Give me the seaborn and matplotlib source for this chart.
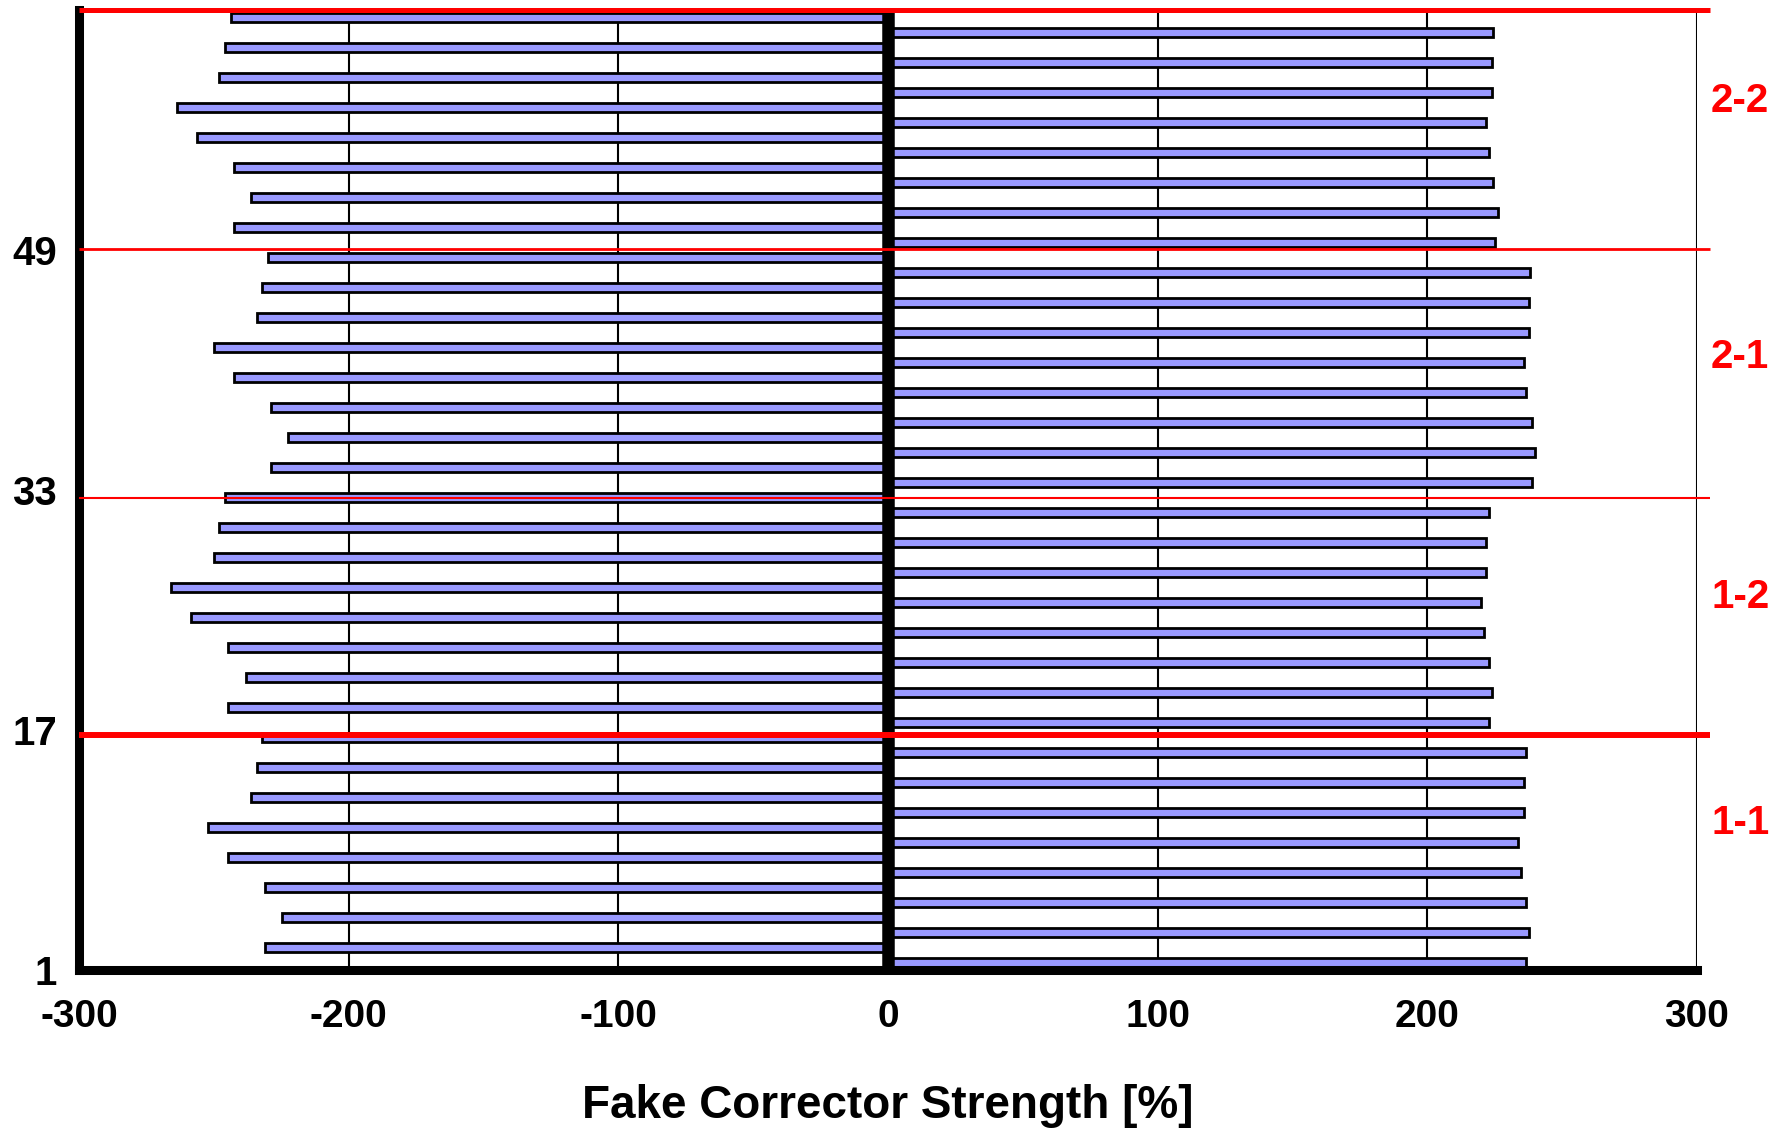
import numpy as np
import pandas as pd
import seaborn as sns
import matplotlib.pyplot as plt
from matplotlib.transforms import ScaledTranslation

# corrector strength per channel (bottom to top)
# odd channels 1, 3, ..., 63 are positive
positive_strength = [236.5, 237.6, 236.5, 234.7, 233.6, 235.8, 235.8, 236.5,
                     222.8, 223.9, 222.8, 221.0, 219.8, 221.7, 221.7, 222.8,
                     238.8, 239.9, 238.8, 236.5, 235.8, 237.6, 237.6, 238.1,
                     225.0, 226.1, 224.5, 222.8, 221.7, 223.9, 223.9, 224.5]
# even channels 2, 4, ..., 64 are negative
negative_strength = [-231.1, -224.8, -231.1, -244.7, -252.2, -236.1, -233.9, -232.1,
                     -244.7, -238.2, -244.7, -258.3, -265.8, -249.9, -248.0, -245.8,
                     -228.8, -222.4, -228.8, -242.4, -249.9, -233.9, -232.1, -229.8,
                     -242.6, -236.1, -242.4, -256.2, -263.6, -248.0, -245.8, -243.7]

channel = np.arange(1, 65)
y_ticks = [0.5, 16.5, 32.5, 48.5, 64.5]
y_tick_labels = ["1", "17", "33", "49", ""]
x_ticks = [-300, -200, -100, 0, 100, 200, 300]
sections = ["1-1", "1-2", "2-1", "2-2"]
section_label_y = [10.3, 25.4, 41.4, 58.4]
section_edges = [16.2, 32.0, 48.6, 64.5]
section_edge_widths = [4.3, 1.5, 2.0, 3.6]

strength = np.column_stack([positive_strength, negative_strength]).ravel()
df = pd.DataFrame({"channel": channel, "strength": strength})

sns.set_theme(style="white")
plt.rcParams["font.family"] = ["Liberation Sans", "DejaVu Sans"]
plt.rcParams["font.weight"] = "bold"
plt.rcParams["axes.unicode_minus"] = False
plt.rcParams["text.color"] = "black"
plt.rcParams["axes.labelcolor"] = "black"
plt.rcParams["xtick.color"] = "black"
plt.rcParams["ytick.color"] = "black"

fig = plt.figure(figsize=(17.89, 11.30), dpi=100)
ax = fig.add_axes([79 / 1789, 1 - 970 / 1130, 1618 / 1789, 960 / 1130])

sns.barplot(data=df, x="strength", y="channel", orient="y", native_scale=True,
            width=0.62, color="#9999ff", saturation=1, edgecolor="black",
            linewidth=2.0, errorbar=None, ax=ax)

ax.set_xlim(-300, 300)
ax.set_ylim(0.5, 64.5)
ax.set_xticks(x_ticks)
ax.set_xticklabels([str(v) for v in x_ticks], fontsize=28, fontweight="bold")
ax.set_yticks(y_ticks)
ax.set_yticklabels(y_tick_labels, fontsize=29, fontweight="bold")
ax.set_ylabel("")
ax.set_xlabel("Fake Corrector Strength [%]", fontsize=33, fontweight="bold",
              va="baseline", color="black")
ax.xaxis.set_label_coords(0.5, -0.154)

for lab in ax.get_yticklabels():
    lab.set_transform(lab.get_transform() + ScaledTranslation(0, 6.5 / 72, fig.dpi_scale_trans))

ax.tick_params(axis="x", direction="out", length=11, width=4.7, pad=10, colors="black")
ax.tick_params(axis="y", direction="out", length=12, width=5.5, pad=4, colors="black")

ax.set_axisbelow(True)
ax.grid(axis="x", color="black", linewidth=1.5)
ax.grid(axis="y", visible=False)

for side in ["top", "right"]:
    ax.spines[side].set_visible(False)
for side in ["left", "bottom"]:
    ax.spines[side].set_linewidth(6.5)
    ax.spines[side].set_color("black")

ax.axvline(0, color="black", linewidth=9, zorder=5)

ax.hlines(section_edges, -300, 305, colors="red", linewidths=section_edge_widths,
          clip_on=False, zorder=6)

for name, yy in zip(sections, section_label_y):
    ax.text(316, yy, name, color="red", fontsize=29, fontweight="bold",
            ha="center", va="center", clip_on=False)

fig.savefig("out.png", dpi=100)
